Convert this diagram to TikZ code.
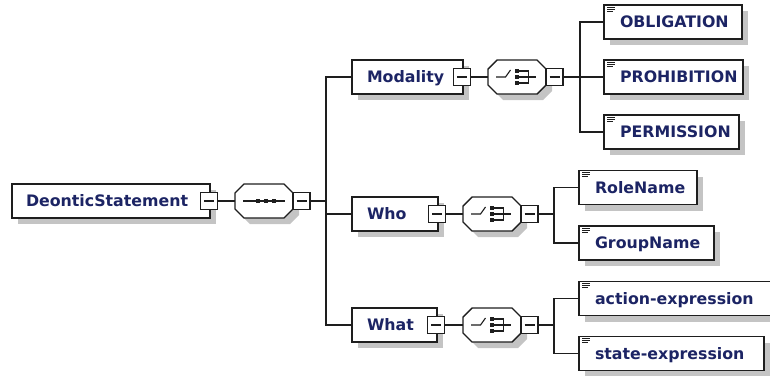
\documentclass[tikz,border=0pt]{standalone}
\usepackage{fontspec}
\setmainfont{DejaVu Sans}
\usetikzlibrary{calc,shadows}

\definecolor{ink}{RGB}{30,30,30}
\definecolor{label}{RGB}{28,36,100}
\definecolor{shadowgray}{RGB}{196,196,196}

% chamfered outline around a (borderless) group node, shifted by (#2,#3)
\newcommand\octo[3]{($(#1.north west)+(9+#2,#3)$) -- ($(#1.north east)+(-9+#2,#3)$)
  -- ($(#1.north east)+(#2,9+#3)$) -- ($(#1.south east)+(#2,-9+#3)$)
  -- ($(#1.south east)+(-9+#2,#3)$) -- ($(#1.south west)+(9+#2,#3)$)
  -- ($(#1.south west)+(#2,-9+#3)$) -- ($(#1.north west)+(#2,9+#3)$) -- cycle}

\tikzset{
  every node/.style={outer sep=0pt},
  shadowed/.style={drop shadow={shadow xshift=6pt, shadow yshift=-6pt, fill=shadowgray, opacity=1}},
  elem/.style={draw=ink, line width=1.4pt, fill=white, shadowed,
    minimum height=34pt, inner xsep=0pt, inner ysep=0pt, align=left,
    text height=14pt, text depth=2.5pt, text=label,
    font=\fontsize{15.8}{18}\selectfont\bfseries, anchor=west},
  leaf/.style={elem, path picture={
    \foreach \dy/\len in {2/8,4.2/8,6.4/6}
      \draw[ink, line width=1pt]
        ([shift={(3pt,-\dy pt)}]path picture bounding box.north west) -- ++(\len pt,0pt);}},
  minus/.style={draw=ink, line width=1.1pt, fill=white, minimum size=17pt, inner sep=0pt,
    path picture={\draw[ink, line width=1.1pt]
      ([xshift=3.5pt]path picture bounding box.west) -- ([xshift=-3.5pt]path picture bounding box.east);}},
  group/.style={minimum width=58pt, minimum height=34pt, inner sep=0pt, anchor=west},
  link/.style={draw=ink, line width=1.4pt},
  sym/.style={draw=ink, line width=1.1pt},
}

% octagon with its shadow
\newcommand\groupbox[1]{%
  \fill[shadowgray] \octo{#1}{6}{6};
  \draw[ink, line width=1.4pt, fill=white] \octo{#1}{0}{0};}

% choice glyph inside a group node
\newcommand\choiceglyph[1]{%
  \draw[sym] ($(#1.center)+(-21,0)$) -- ++(9.5,0) -- ++(5,-7);
  \fill[ink] ($(#1.center)+(-2,-8)$) rectangle ++(4,4);
  \fill[ink] ($(#1.center)+(-2,-2)$) rectangle ++(4,4);
  \fill[ink] ($(#1.center)+(-2,4)$) rectangle ++(4,4);
  \draw[sym] ($(#1.center)+(2,-6)$) -- ++(9.5,0) -- ++(0,12) -- ++(-9.5,0);
  \draw[sym] ($(#1.center)+(2,0)$) -- ++(16.5,0);}

\begin{document}
\begin{tikzpicture}[x=1pt, y=-1pt]
\useasboundingbox (0,0) rectangle (770,375);

% root element and its sequence
\node[elem, text width=198pt] (ds) at (12,201) {\hspace*{14pt}DeonticStatement};
\node[minus] (dsm) at ($(ds.east)+(-1,0)$) {};
\node[group] (seq) at (235,201) {};
\groupbox{seq}
\draw[sym] ($(seq.center)+(-21,0)$) -- ($(seq.center)+(21,0)$);
\foreach \dx in {-8,0,8}
  \fill[ink] ($(seq.center)+(\dx,-2)$) rectangle ++(4,4);
\node[minus, anchor=west] (seqm) at (seq.east) {};
\coordinate (j0) at (326,201);

% second level elements
\node[elem, text width=111pt] (mod) at (352,77) {\hspace*{15pt}Modality};
\node[minus] (modm) at ($(mod.east)+(-1,0)$) {};
\node[elem, text width=86pt] (who) at (352,214) {\hspace*{15pt}Who};
\node[minus] (whom) at ($(who.east)+(-1,0)$) {};
\node[elem, text width=85pt] (what) at (352,325) {\hspace*{15pt}What};
\node[minus] (whatm) at ($(what.east)+(-1,0)$) {};

% choice groups
\node[group] (modc) at (488,77) {};
\groupbox{modc}
\choiceglyph{modc}
\node[minus, anchor=west] (modcm) at (modc.east) {};
\coordinate (j1) at (580,77);

\node[group] (whoc) at (463,214) {};
\groupbox{whoc}
\choiceglyph{whoc}
\node[minus, anchor=west] (whocm) at (whoc.east) {};
\coordinate (j2) at (554,214);

\node[group] (whatc) at (463,325) {};
\groupbox{whatc}
\choiceglyph{whatc}
\node[minus, anchor=west] (whatcm) at (whatc.east) {};
\coordinate (j3) at (554,325);

% leaf elements
\node[leaf, text width=138pt] (obl) at (604,22) {\hspace*{16pt}OBLIGATION};
\node[leaf, text width=139pt] (pro) at (604,77) {\hspace*{16pt}PROHIBITION};
\node[leaf, text width=135pt] (per) at (604,132) {\hspace*{16pt}PERMISSION};
\node[leaf, text width=118pt] (role) at (579,187.5) {\hspace*{16pt}RoleName};
\node[leaf, text width=135pt] (grp) at (579,243) {\hspace*{16pt}GroupName};
\node[leaf, text width=200pt] (act) at (579,298.5) {\hspace*{16pt}action-expression};
\node[leaf, text width=185pt] (st) at (579,353.5) {\hspace*{16pt}state-expression};

% connectors
\draw[link] (dsm.east) -- (seq.west);
\draw[link] (seqm.east) -- (j0);
\draw[link] (j0) |- (mod.west);
\draw[link] (j0) |- (who.west);
\draw[link] (j0) |- (what.west);

\draw[link] (modm.east) -- (modc.west);
\draw[link] (whom.east) -- (whoc.west);
\draw[link] (whatm.east) -- (whatc.west);

\draw[link] (modcm.east) -- (j1);
\draw[link] (j1) |- (obl.west);
\draw[link] (j1) |- (pro.west);
\draw[link] (j1) |- (per.west);

\draw[link] (whocm.east) -- (j2);
\draw[link] (j2) |- (role.west);
\draw[link] (j2) |- (grp.west);

\draw[link] (whatcm.east) -- (j3);
\draw[link] (j3) |- (act.west);
\draw[link] (j3) |- (st.west);
\end{tikzpicture}
\end{document}
